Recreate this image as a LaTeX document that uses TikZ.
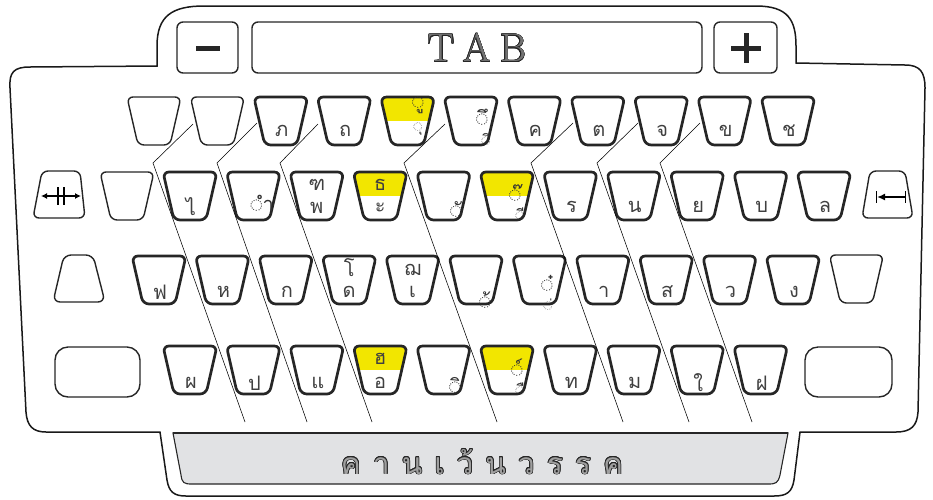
\documentclass[tikz,border=0pt]{standalone}
\usepackage{fontspec}
\usepackage[copies]{contour}
\usetikzlibrary{arrows.meta}
\newfontfamily\thai[Script=Thai]{Loma}
\definecolor{kyellow}{RGB}{242,230,0}
\definecolor{barfill}{RGB}{225,226,228}
\contourlength{0.7pt}
\contournumber{16}
\tikzset{
  body/.style={line width=1.5pt, draw=black!90},
  bold key/.style={line width=2.7pt, draw=black!85, fill=white},
  thin key/.style={line width=1.4pt, draw=black!85, fill=white},
  topkey/.style={line width=1.4pt, draw=black!85, fill=white, rounded corners=6pt},
  lbl/.style={font=\thai\fontsize{20}{20}\selectfont, inner sep=0pt, text=black!75},
  mk/.style={font=\thai\fontsize{20}{20}\selectfont, inner sep=0pt, text=black!80},
  mks/.style={font=\thai\fontsize{15}{15}\selectfont, inner sep=0pt, text=black!80},
  guide/.style={line width=0.55pt, draw=black},
  trapkey/.pic={\path[pic actions, rounded corners=6pt] (-27,0) -- (27,0) -- (16,48) -- (-16,48) -- cycle;},
  yelkey/.pic={
    \begin{scope}
      \clip[rounded corners=6pt] (-27,0) -- (27,0) -- (16,48) -- (-16,48) -- cycle;
      \fill[kyellow] (-30,-3) rectangle (30,24);
    \end{scope}
    \draw[line width=2.7pt, draw=black!85, rounded corners=6pt] (-27,0) -- (27,0) -- (16,48) -- (-16,48) -- cycle;},
}
\begin{document}
\begin{tikzpicture}[x=1pt,y=-1pt]
\useasboundingbox (0,0) rectangle (933,499);

% ---------- body outline ----------
\draw[body] (10,88) .. controls (9,72) and (14,67) .. (30,67) -- (157,66) -- (157,46)
  .. controls (157,16) and (172,6) .. (204,6) -- (756,6)
  .. controls (788,6) and (796,20) .. (796,46) -- (796,63) -- (905,65)
  .. controls (920,65) and (925,72) .. (925,88) -- (918,412)
  .. controls (917,426) and (911,432) .. (896,432) -- (800,432) -- (794,480)
  .. controls (792,492) and (787,496) .. (774,496) -- (186,496)
  .. controls (174,496) and (169,492) .. (167,480) -- (160,432) -- (46,432)
  .. controls (33,432) and (27,426) .. (26,412) -- cycle;

% ---------- top bar ----------
\draw[topkey] (177,22) rectangle (238,73);
\draw[topkey] (252,22) rectangle (702,73);
\draw[topkey] (714,22) rectangle (777,73);
\fill[black!85] (196,45.5) rectangle (220,50.5);
\fill[black!85] (731,45.5) rectangle (761,50.5);
\fill[black!85] (743.5,33) rectangle (748.5,63);
\node[inner sep=0pt] (tab) at (477,48) {\fontsize{40}{40}\selectfont\contourlength{0.6pt}\contour{black!85}{\color{black!55}T\hspace{9pt}A\hspace{9pt}B}};

% ---------- row 1 ----------
\foreach \i in {0,1} {\pic[thin key] at ({154+63.4*\i},97) {trapkey};}
\foreach \i/\t in {2/ภ,3/ถ,6/ค,7/ต,8/จ,9/ข,10/ช} {
  \pic[bold key] at ({154+63.4*\i},97) {trapkey};
  \node[lbl] (r1k\i) at ({155+63.4*\i},131) {\t};
}
\pic at ({154+63.4*4},97) {yelkey};
\node[mk] (r1k4a) at (418,105) {◌ู};
\node[mks] (r1k4b) at (418,129) {◌ุ};
\pic[bold key] at ({154+63.4*5},97) {trapkey};
\node[mk] (r1k5a) at (482,117) {◌ึ};
\node[mks] (r1k5b) at (486,139) {◌ิ};

% ---------- row 2 ----------
\draw[thin key, rounded corners=6pt] (42,171) -- (80,171) -- (85,218) -- (33,218) -- cycle;
\draw[line width=1.4pt, {Latex[length=6pt,width=6pt]}-{Latex[length=6pt,width=6pt]}] (41,196) -- (81,196);
\draw[line width=2.2pt] (58,187) -- (58,205) (64,187) -- (64,205);
\pic[thin key] at (127,172) {trapkey};
\foreach \i/\t in {0/ไ,6/ร,7/น,8/ย,9/บ,10/ล} {
  \pic[bold key] at ({190+63.4*\i},172) {trapkey};
  \node[lbl] (r2k\i) at ({191+63.4*\i},207) {\t};
}
\pic[bold key] at ({190+63.4*1},172) {trapkey};
\node[mk] (r2k1) at (262,203) {◌ำ};
\pic[bold key] at ({190+63.4*2},172) {trapkey};
\node[lbl] (r2k2a) at ({190+63.4*2},185) {ฑ};
\node[lbl] (r2k2b) at ({190+63.4*2},208) {พ};
\pic at ({190+63.4*3},172) {yelkey};
\node[lbl] (r2k3a) at ({190+63.4*3},185) {ธ};
\node[lbl] (r2k3b) at ({190+63.4*3},208) {ะ};
\pic[bold key] at ({190+63.4*4},172) {trapkey};
\node[mk] (r2k4) at (456,209) {◌ั};
\pic at ({190+63.4*5},172) {yelkey};
\node[mk] (r2k5a) at (515,193) {◌๊};
\node[mks] (r2k5b) at (520,214) {◌ี};
\draw[thin key, rounded corners=6pt] (870,171) -- (905,171) -- (913,218) -- (862,218) -- cycle;
\draw[line width=0.9pt] (876,191) -- (876,203) (905,191) -- (905,203);
\draw[line width=2.6pt, -{Latex[length=8pt,width=7pt]}] (905,197) -- (877,197);

% ---------- row 3 ----------
\draw[thin key, rounded corners=7pt] (64,255) -- (93,255) -- (105,302) -- (53,302) -- cycle;
\foreach \i/\t in {0/ฟ,1/ห,2/ก,7/า,8/ส,9/ว,10/ง} {
  \pic[bold key] at ({159+63.4*\i},256) {trapkey};
  \node[lbl] (r3k\i) at ({160+63.4*\i},292) {\t};
}
\pic[bold key] at ({159+63.4*3},256) {trapkey};
\node[lbl] (r3k3a) at ({159+63.4*3},268) {โ};
\node[lbl] (r3k3b) at ({159+63.4*3},292) {ด};
\pic[bold key] at ({159+63.4*4},256) {trapkey};
\node[lbl] (r3k4a) at ({159+63.4*4},270) {ฌ};
\node[lbl] (r3k4b) at ({159+63.4*4},292) {เ};
\pic[bold key] at ({159+63.4*5},256) {trapkey};
\node[mk] (r3k5) at (485,300) {◌้};
\pic[bold key] at ({159+63.4*6},256) {trapkey};
\node[mk] (r3k6a) at (547,283) {◌๋};
\node[mks] (r3k6b) at (548,305) {◌่};
\pic[thin key] at ({159+63.4*11},255) {trapkey};

% ---------- row 4 ----------
\draw[thin key, rounded corners=13pt] (55,347) rectangle (140,397);
\foreach \i/\t in {0/ผ,1/ป,2/แ,6/ท,7/ม,8/ใ,9/ฝ} {
  \pic[bold key] at ({190+63.4*\i},346) {trapkey};
  \node[lbl] (r4k\i) at ({191+63.4*\i},383) {\t};
}
\pic at ({190+63.4*3},346) {yelkey};
\node[lbl] (r4k3a) at ({190+63.4*3},359) {ฮ};
\node[lbl] (r4k3b) at ({190+63.4*3},383) {อ};
\pic[bold key] at ({190+63.4*4},346) {trapkey};
\node[mk] (r4k4) at (455,385) {◌ิ};
\pic at ({190+63.4*5},346) {yelkey};
\node[mk] (r4k5a) at (517,368) {◌์};
\node[mks] (r4k5b) at (520,389) {◌ื};
\draw[thin key, rounded corners=13pt] (805,347) rectangle (892,397);

% ---------- guide lines ----------
\foreach \n/\a/\b/\c/\d/\e/\f in {1/193/124/153/163/245/422, 2/257/123/217/163/307/422,
    3/318/124/280/163/372/422, 4/445/124/404/163/497/422, 5/573/123/531/163/623/422,
    6/638/123/597/163/689/422, 7/700/123/660/163/752/422} {
  \coordinate (g\n s) at (\a,\b);
  \coordinate (g\n k) at (\c,\d);
  \coordinate (g\n e) at (\e,\f);
  \draw[guide] (g\n s) -- (g\n k) -- (g\n e);
}

% ---------- space bar ----------
\path[fill=barfill, draw=black!85, line width=1.1pt] (173,433) -- (788,433) -- (780,475)
  .. controls (778,483) and (776,484) .. (768,484) -- (192,484)
  .. controls (184,484) and (182,483) .. (181,475) -- cycle;
\draw[line width=2pt, black!85] (173,433) -- (788,433);
\node[inner sep=0pt] (space) at (482,462) {\thai\fontsize{30}{30}\selectfont\contour{black!85}{\color{gray!75}ค\hspace{12pt}า\hspace{12pt}น\hspace{12pt}เ\hspace{12pt}ว้\hspace{12pt}น\hspace{12pt}ว\hspace{12pt}ร\hspace{12pt}ร\hspace{12pt}ค}};
\end{tikzpicture}
\end{document}
